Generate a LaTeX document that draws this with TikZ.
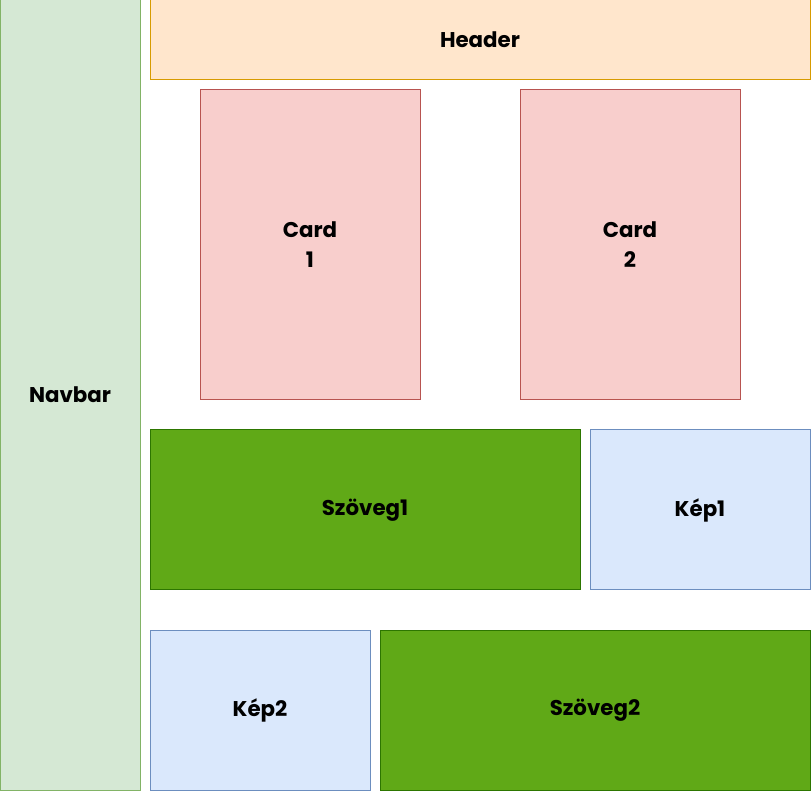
\documentclass[tikz,border=0pt]{standalone}
\usepackage{fontspec}
\setmainfont{Poppins}

\definecolor{navfill}{HTML}{D5E8D4}
\definecolor{navline}{HTML}{82B366}
\definecolor{headfill}{HTML}{FFE6CC}
\definecolor{headline}{HTML}{D79B00}
\definecolor{cardfill}{HTML}{F8CECC}
\definecolor{cardline}{HTML}{B85450}
\definecolor{textfill}{HTML}{60A917}
\definecolor{textline}{HTML}{2D7600}
\definecolor{imgfill}{HTML}{DAE8FC}
\definecolor{imgline}{HTML}{6C8EBF}

\begin{document}
\begin{tikzpicture}[x=0.75pt, y=-0.75pt, every node/.style={draw, line width=0.75pt, inner sep=0pt, font=\fontsize{16}{22.5}\selectfont\bfseries, align=center}, navbox/.style={fill=navfill, draw=navline}, headbox/.style={fill=headfill, draw=headline}, cardbox/.style={fill=cardfill, draw=cardline, minimum width=165pt, minimum height=232.5pt}, textbox/.style={fill=textfill, draw=textline, minimum width=322.5pt, minimum height=120pt}, imgbox/.style={fill=imgfill, draw=imgline, minimum width=165pt, minimum height=120pt}]
\useasboundingbox (0,0) rectangle (811,791);
\node[navbox, minimum width=105pt, minimum height=592.5pt] (navbar) at (70,395) {Navbar};
\node[headbox, minimum width=495pt, minimum height=60pt] (header) at (480,40) {Header};
\node[cardbox] (card1) at (310,245) {Card\\1};
\node[cardbox] (card2) at (630,245) {Card\\2};
\node[textbox] (szoveg1) at (365,510) {Szöveg1};
\node[imgbox] (kep1) at (700,510) {Kép1};
\node[imgbox] (kep2) at (260,710) {Kép2};
\node[textbox] (szoveg2) at (595,710) {Szöveg2};
\end{tikzpicture}
\end{document}
